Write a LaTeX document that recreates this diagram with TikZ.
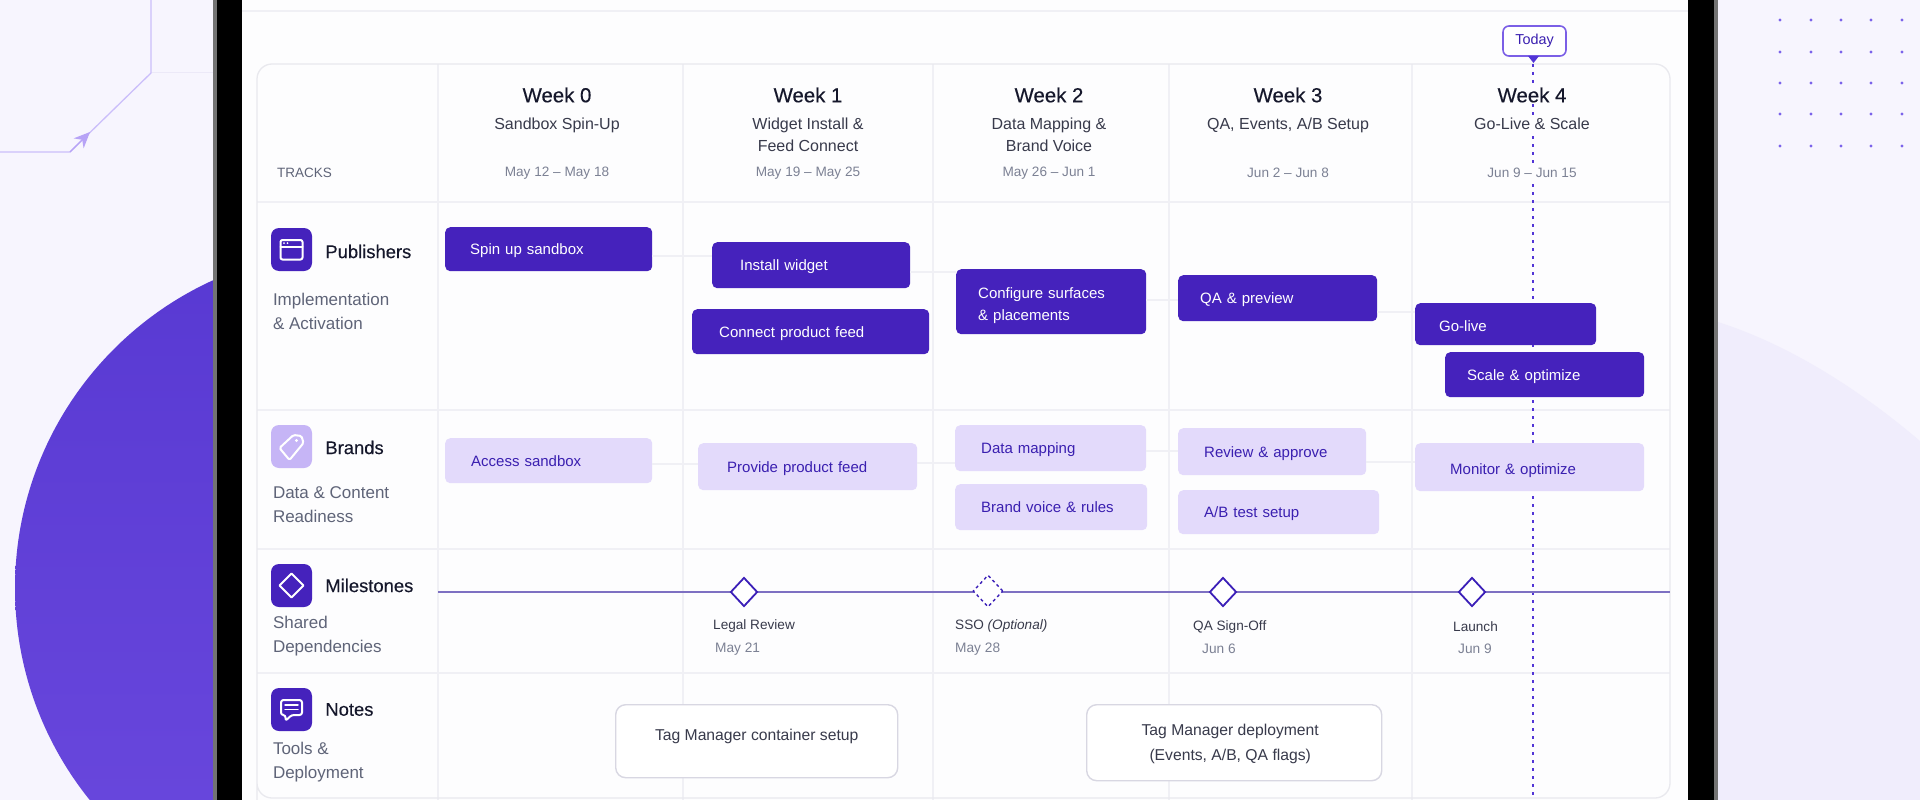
\documentclass[tikz,border=0pt]{standalone}
\usepackage{fontspec}
\setmainfont{Liberation Sans}
\newfontfamily\medfont[FakeBold=0.25]{Liberation Sans}
\usepackage{tikz}
\usetikzlibrary{arrows.meta, positioning, shapes.geometric}

\definecolor{pagebg}{HTML}{F7F5FE}
\definecolor{palearc}{HTML}{F0EDFC}
\definecolor{bigtop}{HTML}{5839D2}
\definecolor{bigbottom}{HTML}{6B49DE}
\definecolor{decoline}{HTML}{CBBEFA}
\definecolor{decotip}{HTML}{B7A3F6}
\definecolor{decofaint}{HTML}{ECE9F8}
\definecolor{dotcol}{HTML}{7B63EA}
\definecolor{screen}{HTML}{FDFDFE}
\definecolor{gridcol}{HTML}{F0F0F5}
\definecolor{ink}{HTML}{15172B}
\definecolor{subink}{HTML}{5F6478}
\definecolor{dateink}{HTML}{7C8194}
\definecolor{darkbar}{HTML}{4522BC}
\definecolor{lightbar}{HTML}{E3DAFB}
\definecolor{lightink}{HTML}{3A1FB0}
\definecolor{brandicon}{HTML}{C6B5F6}
\definecolor{todayline}{HTML}{5235D6}
\definecolor{todayedge}{HTML}{7B5FE6}
\definecolor{msline}{HTML}{7D70C2}
\definecolor{msedge}{HTML}{3B1FB8}
\definecolor{noteedge}{HTML}{D8D7E2}

\newcommand{\sized}[2]{\fontsize{#1}{#2}\selectfont}

\tikzset{
	weektitle/.style={inner sep=1pt, text=ink, font=\medfont\sized{20.4}{24}},
	weeksub/.style={inner sep=1pt, text=ink!85, align=center, font=\sized{16}{22}},
	weekdate/.style={inner sep=1pt, text=dateink, font=\sized{13.6}{16}},
	masked/.style={fill=screen},
	tracktitle/.style={inner sep=0pt, text=ink, font=\medfont\sized{18.4}{22}},
	tracksub/.style={inner sep=0pt, text=subink, align=left, font=\sized{17}{24}},
	trackicon/.style={rounded corners=8pt, minimum width=41pt, minimum height=43pt, inner sep=0pt},
	iconline/.style={draw=white, line width=2pt, line join=round, line cap=round},
	darktask/.style n args={3}{rounded corners=5pt, fill=darkbar, text=white, align=left,
		inner xsep=#3pt, inner ysep=0pt, text width=#1pt-2*#3pt, minimum height=#2pt, text depth=-1pt,
		anchor=north west, font=\sized{15}{22}},
	lighttask/.style n args={3}{rounded corners=5pt, fill=lightbar, text=lightink, align=left,
		inner xsep=#3pt, inner ysep=0pt, text width=#1pt-2*#3pt, minimum height=#2pt, text depth=-1pt,
		anchor=north west, font=\sized{15}{22}},
	tasklink/.style={draw=gridcol, line width=1.6pt},
	mile/.style={diamond, draw=msedge, fill=white, line width=1.8pt, inner sep=0pt,
		minimum width=27pt, minimum height=29pt},
	milename/.style={inner sep=0pt, anchor=west, text=ink!85, font=\sized{13.6}{16}},
	miledate/.style={inner sep=0pt, anchor=west, text=dateink, font=\sized{13.7}{16}},
	notebox/.style={draw=noteedge, fill=white, line width=1.4pt, rounded corners=10pt, align=center,
		text=ink!85, anchor=north west, inner sep=0pt, font=\sized{15.7}{25}},
}

\begin{document}
\begin{tikzpicture}[x=1pt, y=-1pt]
	\useasboundingbox (0,0) rectangle (1920,800);
	\clip (0,0) rectangle (1920,800);

	\fill [pagebg] (0,0) rectangle (1920,800);
	\fill [palearc] (1718,322) .. controls (1790,345) and (1860,390) .. (1920,441) -- (1920,800) -- (1718,800) -- cycle;
	\shade [top color=bigtop, bottom color=bigbottom] (353,588) circle (338);

	\draw [decofaint, line width=1pt] (151,73) -- (213,73);
	\draw [decoline, line width=1.3pt] (0,152) -- (70,152) -- (151,73) -- (151,0);
	\draw [decotip, line width=1.3pt, -{Stealth[length=16pt, width=14pt, inset=5pt]}] (70,152) -- (90,132);

	\foreach \dotx in {1780,1811,1841,1871,1902}
		\foreach \doty in {20,52,83,114,146}
			\fill [dotcol] (\dotx,\doty) circle (1.7);

	% tablet frame and screen
	\fill [black!55] (213,0) rectangle (1718,800);
	\fill [black] (217,0) rectangle (1714,800);
	\fill [screen] (242,0) rectangle (1688,800);
	\draw [gridcol, line width=1.4pt] (242,11) -- (1688,11);

	% table grid
	\foreach \liney in {202,410,549,673}
		\draw [gridcol, line width=1.2pt] (257,\liney) -- (1670,\liney);
	\foreach \linex in {438,683,933,1169,1412}
		\draw [gridcol, line width=1.2pt] (\linex,64) -- (\linex,800);
	\draw [gridcol!97!black, line width=1.3pt, rounded corners=15pt] (257,830) -- (257,64) -- (1670,64) -- (1670,798) -- (257,798) -- (257,780);

	% today marker
	\node (today) [draw=todayedge, fill=white, line width=1.6pt, rounded corners=6pt, text=lightink,
		minimum width=63pt, minimum height=30pt, inner sep=0pt, font=\sized{14.4}{16}] at (1534.5,41) {Today};
	\coordinate (todayend) at (1533,800);
	\draw [todayline, line width=1.5pt, dash pattern=on 3pt off 5pt] (1533,64) -- (todayend);
	\fill [todayline] (1528,56) -- (1539,56) -- (1533.5,63) -- cycle;

	% week headers
	\node (w0) [weektitle] at (557,95) {Week 0};
	\node (w0sub) [weeksub, below=13pt of w0] {Sandbox Spin-Up};
	\node (w0date) [weekdate] at (557,173) {May 12 – May 18};
	\node (w1) [weektitle] at (808,95) {Week 1};
	\node (w1sub) [weeksub, below=13pt of w1] {Widget Install \&\\Feed Connect};
	\node (w1date) [weekdate] at (808,173) {May 19 – May 25};
	\node (w2) [weektitle] at (1049,95) {Week 2};
	\node (w2sub) [weeksub, below=13pt of w2] {Data Mapping \&\\Brand Voice};
	\node (w2date) [weekdate] at (1049,173) {May 26 – Jun 1};
	\node (w3) [weektitle] at (1288,95) {Week 3};
	\node (w3sub) [weeksub, below=13pt of w3] {QA, Events, A/B Setup};
	\node (w3date) [weekdate] at (1288,173) {Jun 2 – Jun 8};
	\node (w4) [weektitle, masked] at (1532,95) {Week 4};
	\node (w4sub) [weeksub, masked, below=13pt of w4] {Go-Live \& Scale};
	\node (w4date) [weekdate, masked] at (1532,173) {Jun 9 – Jun 15};
	\node (tracks) [inner sep=0pt, anchor=west, text=subink, font=\sized{13.5}{16}] at (277,173) {TRACKS};

	% tracks
	\node (pubicon) [trackicon, fill=darkbar] at (291.5,249.5) {};
	\node (pub) [tracktitle, right=13pt of pubicon, yshift=-2pt] {Publishers};
	\node (pubsub) [tracksub, below=22pt of pubicon.south west, anchor=north west, xshift=2pt] {Implementation\\\& Activation};
	\node (brandicon) [trackicon, fill=brandicon] at (291.5,446.5) {};
	\node (brand) [tracktitle, right=13pt of brandicon, yshift=-1pt] {Brands};
	\node (brandsub) [tracksub, below=18pt of brandicon.south west, anchor=north west, xshift=2pt] {Data \& Content\\Readiness};
	\node (mileicon) [trackicon, fill=darkbar] at (291.5,585.5) {};
	\node (milestones) [tracktitle, right=13pt of mileicon] {Milestones};
	\node (milesub) [tracksub, below=9pt of mileicon.south west, anchor=north west, xshift=2pt] {Shared\\Dependencies};
	\node (noteicon) [trackicon, fill=darkbar] at (291.5,709.5) {};
	\node (notes) [tracktitle, right=13pt of noteicon] {Notes};
	\node (notesub) [tracksub, below=11pt of noteicon.south west, anchor=north west, xshift=2pt] {Tools \&\\Deployment};

	% icon glyphs
	\begin{scope}[shift={(pubicon.center)}]
		\draw [iconline, rounded corners=2pt] (-11,-9.5) rectangle (11,10);
		\draw [iconline] (-11,-3) -- (11,-3);
		\fill [white] (-7.5,-6.3) circle (1) (-4,-6.3) circle (1);
	\end{scope}
	\begin{scope}[shift={(brandicon.center)}]
		\draw [iconline, rounded corners=1.5pt] (-12,1.5) -- (2,-11.5) -- (10,-10.5) -- (12,-3.5) -- (-2,13.5) -- cycle;
		\fill [white] (5,-6) circle (1.7);
	\end{scope}
	\begin{scope}[shift={(mileicon.center)}]
		\draw [iconline] (0,-12) -- (12,0) -- (0,12) -- (-12,0) -- cycle;
	\end{scope}
	\begin{scope}[shift={(noteicon.center)}]
		\draw [iconline, rounded corners=2.5pt] (-6,5.5) -- (-10.5,5.5) -- (-10.5,-9.5) -- (10.5,-9.5) -- (10.5,5.5) -- (0,5.5) -- (-6,11.5) -- cycle;
		\draw [iconline, line width=1.5pt] (-6.5,-4.5) -- (6.5,-4.5) (-6.5,0) -- (6.5,0);
	\end{scope}

	% publisher tasks
	\node (spin) [darktask={207}{44}{25}] at (445,227) {Spin up sandbox};
	\node (install) [darktask={198}{46}{28}] at (712,242) {Install widget};
	\node (connect) [darktask={237}{45}{27}] at (692,309) {Connect product feed};
	\node (configure) [darktask={190}{65}{22}, text depth=18pt] at (956,269) {Configure surfaces\\\& placements};
	\node (preview) [darktask={199}{46}{22}] at (1178,275) {QA \& preview};
	\node (golive) [darktask={181}{42}{24}, text height=14pt] at (1415,303) {Go-live};
	\node (scale) [darktask={199}{45}{22}] at (1445,352) {Scale \& optimize};

	\path [tasklink]
		([yshift=-7pt]spin.east) edge ([yshift=9pt]install.west)
		([yshift=-7pt]install.east) edge ([yshift=29.5pt]configure.west)
		([yshift=1.5pt]configure.east) edge ([yshift=-2pt]preview.west)
		([yshift=-14pt]preview.east) edge ([yshift=12pt]golive.west)
		;

	% brand tasks
	\node (access) [lighttask={207}{45}{26}] at (445,438) {Access sandbox};
	\node (provide) [lighttask={219}{47}{29}] at (698,443) {Provide product feed};
	\node (mapping) [lighttask={191}{46}{26}] at (955,425) {Data mapping};
	\node (voice) [lighttask={192}{46}{26}] at (955,484) {Brand voice \& rules};
	\node (review) [lighttask={188}{47}{26}] at (1178,428) {Review \& approve};
	\node (abtest) [lighttask={201}{44}{26}] at (1178,490) {A/B test setup};
	\node (monitor) [lighttask={229}{48}{35}, text height=14pt] at (1415,443) {Monitor \& optimize};

	\path [tasklink]
		([yshift=-3.5pt]access.east) edge ([yshift=2.5pt]provide.west)
		([yshift=3.5pt]provide.east) edge ([yshift=-15pt]mapping.west)
		([yshift=-3pt]mapping.east) edge ([yshift=0.5pt]review.west)
		([yshift=-10.5pt]review.east) edge ([yshift=5pt]monitor.west)
		;

	% milestones
	\coordinate (linestart) at (438,592);
	\coordinate (lineend) at (1670,592);
	\draw [msline, line width=1.7pt] (linestart) -- (lineend);
	\node (legal) [mile] at (744,592) {};
	\node (sso) [mile, dashed, line width=1.4pt, minimum width=30pt, minimum height=32pt] at (988,591) {};
	\node (qasign) [mile] at (1223,592) {};
	\node (launch) [mile] at (1472,592) {};

	\node (legalname) [milename] at (713,626) {Legal Review};
	\node (legaldate) [miledate] at (715,649) {May 21};
	\node (ssoname) [milename] at (955,626) {SSO \textit{(Optional)}};
	\node (ssodate) [miledate] at (955,649) {May 28};
	\node (qaname) [milename] at (1193,627) {QA Sign-Off};
	\node (qadate) [miledate] at (1202,649) {Jun 6};
	\node (launchname) [milename] at (1453,627) {Launch};
	\node (launchdate) [miledate] at (1458,649) {Jun 9};

	% notes
	\node (containernote) [notebox, text depth=12pt, minimum width=282pt, minimum height=73pt] at (615,704) {Tag Manager container setup};
	\node (deploynote) [notebox, text depth=-2pt, minimum width=295pt, minimum height=76pt] at (1086,704) {Tag Manager deployment\hspace*{8pt}\\(Events, A/B, QA flags)\hspace*{8pt}};
\end{tikzpicture}
\end{document}
